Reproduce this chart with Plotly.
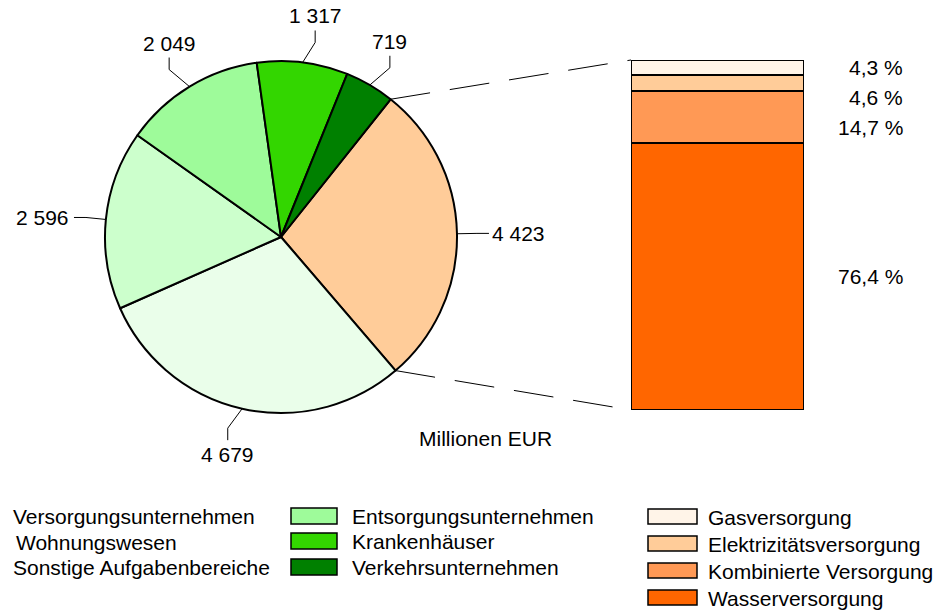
import math
import plotly.graph_objects as go

# ---------------- data ----------------
pie_labels = ["Versorgungsunternehmen", "Wohnungswesen", "Sonstige Aufgabenbereiche",
              "Entsorgungsunternehmen", "Krankenhäuser", "Verkehrsunternehmen"]
pie_values = [4423, 4679, 2596, 2049, 1317, 719]
pie_colors = ["#FFCC99", "#EAFEEA", "#CCFFCC", "#9EFB9A", "#33D600", "#008000"]

bar_labels = ["Wasserversorgung", "Kombinierte Versorgung", "Elektrizitätsversorgung", "Gasversorgung"]
bar_values = [76.4, 14.7, 4.6, 4.3]
bar_colors = ["#FF6600", "#FF9955", "#FFCC99", "#FFF4E8"]

unit_label = "Millionen EUR"

# ---------------- layout geometry (pixels) ----------------
W, H = 943, 614
cx, cy, R = 281, 237, 176
rotation = 38.5
bar_x0, bar_x1, bar_y0, bar_y1 = 631, 804, 60, 410
FONT = "Liberation Sans, Arial, sans-serif"
FS = 21


def px(x):
    return x / W


def py(y):
    return 1 - y / H


fig = go.Figure()

fig.add_trace(go.Pie(
    labels=pie_labels, values=pie_values, sort=False, direction="clockwise",
    rotation=rotation, textinfo="none", hoverinfo="label+value",
    marker=dict(colors=pie_colors, line=dict(color="black", width=2)),
    domain=dict(x=[px(cx - R), px(cx + R)], y=[py(cy + R), py(cy - R)]),
    showlegend=False,
))

for lab, val, col in zip(bar_labels, bar_values, bar_colors):
    fig.add_trace(go.Bar(
        x=[0], y=[val], name=lab, width=1,
        marker=dict(color=col, line=dict(color="black", width=2)),
        xaxis="x", yaxis="y", showlegend=False,
    ))

shapes = []
annotations = []

# pie value labels with leader lines
total = sum(pie_values)
ang = rotation
first_start = rotation
for v in pie_values:
    span = 360 * v / total
    mid = math.radians(ang + span / 2)
    s, c = math.sin(mid), math.cos(mid)
    p1 = (cx + R * s, cy - R * c)
    ext, elb = 20, 12
    txt = f"{v:,}".replace(",", " ")
    if abs(s) > 0.8:
        p2 = (cx + (R + ext) * s, cy - (R + ext) * c)
        p3 = (p2[0] + (elb if s > 0 else -elb), p2[1])
        annotations.append(dict(x=px(p3[0] + (1 if s > 0 else -3)), y=py(p3[1]), xref="paper", yref="paper",
                                text=txt, showarrow=False, xanchor="left" if s > 0 else "right",
                                yanchor="middle", font=dict(size=FS, color="black", family=FONT)))
    else:
        shift = 10 if s > 0 else -10
        p2 = (cx + (R + ext) * s + shift, cy - (R + ext) * c)
        p3 = (p2[0], p2[1] - (elb if c > 0 else -elb))
        annotations.append(dict(x=px(p3[0]), y=py(p3[1] + (-1 if c > 0 else 1)), xref="paper", yref="paper",
                                text=txt, showarrow=False, xanchor="center",
                                yanchor="bottom" if c > 0 else "top",
                                font=dict(size=FS, color="black", family=FONT)))
    path = f"M {px(p1[0])} {py(p1[1])} L {px(p2[0])} {py(p2[1])} L {px(p3[0])} {py(p3[1])}"
    shapes.append(dict(type="path", path=path, xref="paper", yref="paper",
                       line=dict(color="black", width=1)))
    ang += span

# dashed connectors from first pie slice to bar
a0 = math.radians(first_start)
a1 = math.radians(first_start + 360 * pie_values[0] / total)
for a, by in ((a0, bar_y0), (a1, bar_y1)):
    x0, y0 = cx + R * math.sin(a), cy - R * math.cos(a)
    shapes.append(dict(type="line", xref="paper", yref="paper",
                       x0=px(x0), y0=py(y0), x1=px(bar_x0), y1=py(by),
                       line=dict(color="black", width=1, dash="40px,20px")))

# percent labels next to bar (from top, with minimum spacing)
cum = 100.0
prev = None
gap = 8.5
for lab, val in reversed(list(zip(bar_labels, bar_values))):
    center = cum - val / 2
    yl = center if prev is None else min(center, prev - gap)
    prev = yl
    cum -= val
    annotations.append(dict(x=px(905), y=yl, xref="paper", yref="y",
                            text=f"{val:.1f} %".replace(".", ","), showarrow=False,
                            xanchor="right", yanchor="middle",
                            font=dict(size=FS, color="black", family=FONT)))

annotations.append(dict(x=px(486), y=py(438), xref="paper", yref="paper", text=unit_label,
                        showarrow=False, xanchor="center", yanchor="middle",
                        font=dict(size=FS, color="black", family=FONT)))

# legend: left column (text only), middle column, right column
left_x = [11, 14, 11]
left_y = [516, 542, 567]
for i, lab in enumerate(pie_labels[:3]):
    annotations.append(dict(x=px(left_x[i]), y=py(left_y[i]), xref="paper", yref="paper", text=lab,
                            showarrow=False, xanchor="left", yanchor="middle",
                            font=dict(size=FS, color="black", family=FONT)))

mid_y = [516, 541, 567]
for i, (lab, col) in enumerate(zip(pie_labels[3:], pie_colors[3:])):
    yc = mid_y[i]
    shapes.append(dict(type="rect", xref="paper", yref="paper",
                       x0=px(291), x1=px(337), y0=py(yc - 8), y1=py(yc + 8),
                       fillcolor=col, line=dict(color="black", width=1.5)))
    annotations.append(dict(x=px(350), y=py(yc), xref="paper", yref="paper", text=lab,
                            showarrow=False, xanchor="left", yanchor="middle",
                            font=dict(size=FS, color="black", family=FONT)))

right_y = [517, 544, 571, 598]
for i, (lab, col) in enumerate(zip(reversed(bar_labels), reversed(bar_colors))):
    yc = right_y[i]
    shapes.append(dict(type="rect", xref="paper", yref="paper",
                       x0=px(648), x1=px(697), y0=py(yc - 8), y1=py(yc + 7),
                       fillcolor=col, line=dict(color="black", width=1.5)))
    annotations.append(dict(x=px(706), y=py(yc), xref="paper", yref="paper", text=lab,
                            showarrow=False, xanchor="left", yanchor="middle",
                            font=dict(size=FS, color="black", family=FONT)))

fig.update_layout(
    width=W, height=H, margin=dict(l=0, r=0, t=0, b=0),
    paper_bgcolor="white", plot_bgcolor="white",
    barmode="stack", bargap=0,
    xaxis=dict(domain=[px(bar_x0), px(bar_x1)], range=[-0.5, 0.5], visible=False, fixedrange=True),
    yaxis=dict(domain=[py(bar_y1), py(bar_y0)], range=[0, 100], visible=False, fixedrange=True),
    shapes=shapes, annotations=annotations,
    font=dict(family=FONT, size=FS, color="black"),
    showlegend=False,
)

fig.write_html("out.html", config={"displayModeBar": False},
               post_script=["document.body.style.margin='0px';document.body.style.overflow='hidden';"])
